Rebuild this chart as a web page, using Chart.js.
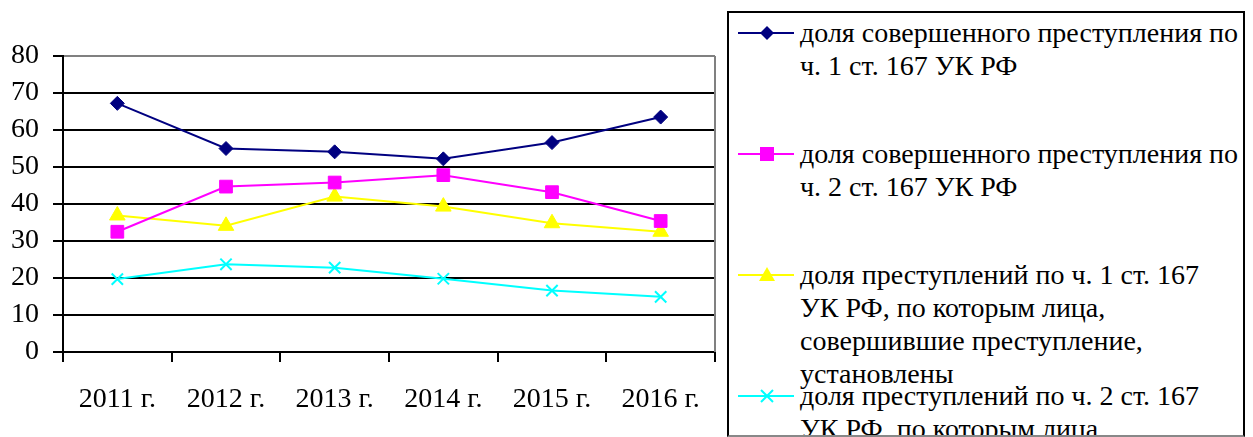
<!DOCTYPE html>
<html>
<head>
<meta charset="utf-8">
<script src="https://cdn.jsdelivr.net/npm/chart.js@4/dist/chart.umd.min.js"></script>
<style>
html,body{margin:0;padding:0;background:#fff;overflow:hidden}
#wrap{position:relative;width:1253px;height:437px;overflow:hidden}
#c{position:absolute;left:0;top:0}
#leg{position:absolute;left:727px;top:11px;width:518px;height:426px;border:2px solid #000;border-bottom-color:#888;box-sizing:border-box;overflow:hidden;
  font-family:'Liberation Serif';font-size:28px;line-height:33px;color:#000}
.it{position:absolute;left:0;width:100%}
.it svg{position:absolute;left:9px;top:9px}
.it .tx{position:absolute;left:71px;top:0;white-space:nowrap}
</style>
</head>
<body>
<div id="wrap">
<canvas id="c" width="725" height="437"></canvas>
<div id="leg"></div>
</div>
<script>
// категории и значения (%)
const years=['2011 г.','2012 г.','2013 г.','2014 г.','2015 г.','2016 г.'];
const s1=[67.2,55.0,54.1,52.2,56.6,63.5];
const s2=[32.5,44.7,45.8,47.8,43.2,35.4];
const s3=[36.9,34.1,42.0,39.3,34.8,32.5];
const s4=[19.7,23.7,22.8,19.8,16.6,14.9];
const labels=[
  ['доля совершенного преступления по','ч. 1 ст. 167 УК РФ'],
  ['доля совершенного преступления по','ч. 2 ст. 167 УК РФ'],
  ['доля преступлений по ч. 1 ст. 167','УК РФ, по которым лица,','совершившие преступление,','установлены'],
  ['доля преступлений по ч. 2 ст. 167','УК РФ, по которым лица,','совершившие преступление,','установлены']
];
const cols=['#000080','#ff00ff','#ffff00','#00ffff'];
const pst=['rectRot','rect','triangle','crossRot'];
const prad=[7,9,9,8];

Chart.defaults.font.family='"Liberation Serif", serif';
Chart.defaults.font.size=28;
Chart.defaults.color='#000';

// серая рамка справа у области построения
const plotBorder={id:'plotBorder',beforeDatasetsDraw(ch){
  const a=ch.chartArea,x=ch.ctx;
  x.save();x.strokeStyle='#808080';x.lineWidth=2;
  x.beginPath();x.moveTo(a.right,a.top);x.lineTo(a.right,a.bottom);x.stroke();x.restore();
}};

new Chart(document.getElementById('c'),{
  type:'line',
  data:{labels:years,datasets:[s1,s2,s3,s4].map((d,i)=>({
    label:labels[i].join(' '),data:d,
    borderColor:cols[i],backgroundColor:cols[i],borderWidth:2,
    pointStyle:pst[i],pointRadius:prad[i],pointHoverRadius:prad[i],
    pointBorderColor:cols[i],pointBackgroundColor:cols[i],pointBorderWidth:i==3?2:1,
    tension:0
  }))},
  options:{responsive:false,animation:false,
    layout:{padding:{top:56,right:6,left:0,bottom:0}},
    plugins:{legend:{display:false},tooltip:{enabled:false}},
    scales:{
      x:{offset:true,
        grid:{offset:true,drawOnChartArea:false,drawTicks:true,tickLength:10,color:'#000',lineWidth:2},
        border:{color:'#000',width:2},
        ticks:{color:'#000',padding:21,maxRotation:0,autoSkip:false},
        afterFit(s){s.height=85}},
      y:{min:0,max:80,
        grid:{color:c=>c.tick&&c.tick.value===80?'#808080':'#000',tickColor:'#000',lineWidth:2,tickLength:10},
        border:{color:'#000',width:2},
        ticks:{stepSize:10,color:'#000',padding:14},
        afterFit(s){s.width=63}}
    }},
  plugins:[plotBorder]
});

// легенда
function marker(i){
  const c=cols[i];let m='';
  if(i==0)m=`<polygon points="29,1 36,8 29,15 22,8" fill="${c}"/>`;
  if(i==1)m=`<rect x="22" y="1" width="14" height="14" fill="${c}"/>`;
  if(i==2)m=`<polygon points="29,0 37,14 21,14" fill="${c}"/>`;
  if(i==3)m=`<path d="M23,2 L35,14 M35,2 L23,14" stroke="${c}" stroke-width="2"/>`;
  return `<svg width="56" height="16"><line x1="0" y1="8" x2="56" y2="8" stroke="${c}" stroke-width="2"/>${m}</svg>`;
}
const leg=document.getElementById('leg');
labels.forEach((l,i)=>{
  const d=document.createElement('div');d.className='it';d.style.top=(3+i*121)+'px';
  d.innerHTML=marker(i)+`<div class="tx">${l.join('<br>')}</div>`;
  leg.appendChild(d);
});
</script>
</body>
</html>
